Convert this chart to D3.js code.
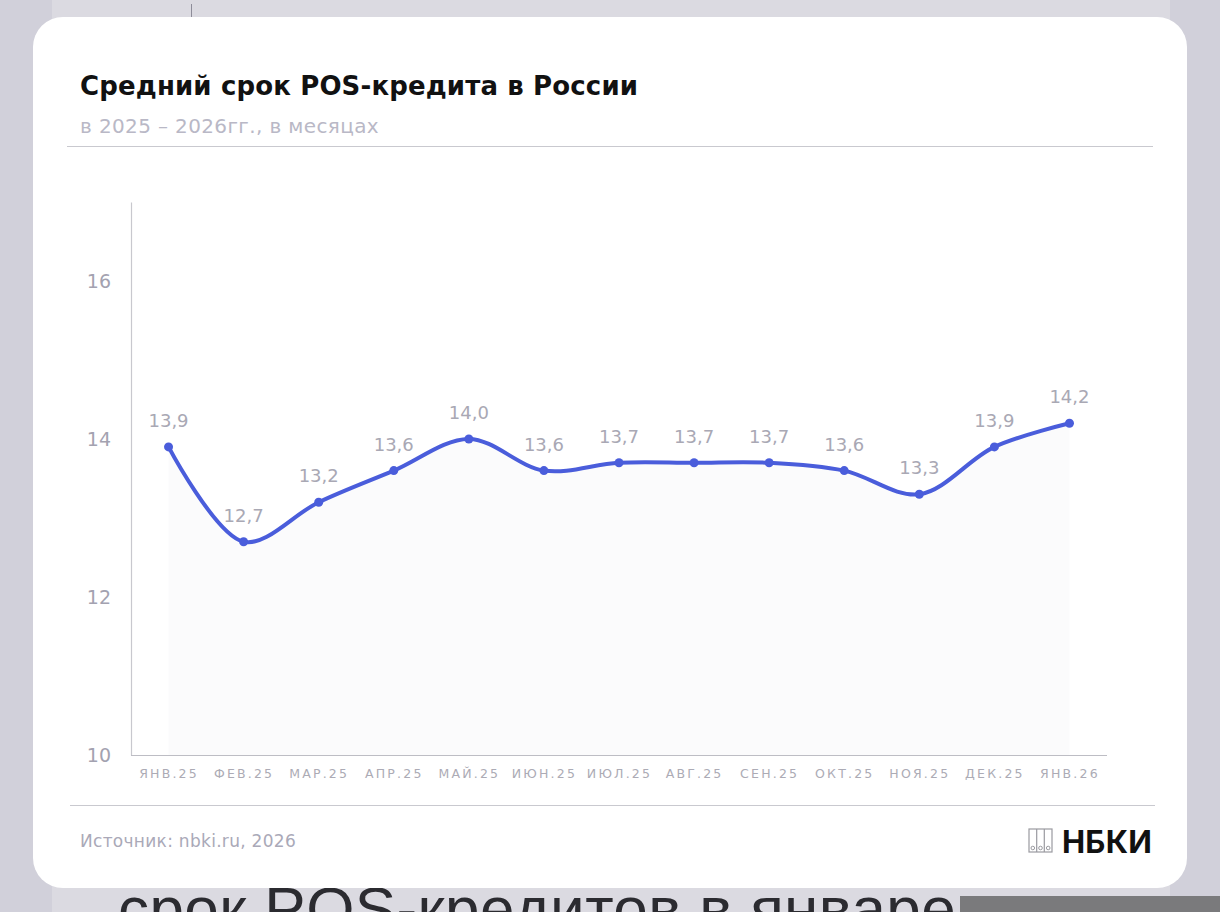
<!DOCTYPE html>
<html><head><meta charset="utf-8">
<script src="https://cdn.jsdelivr.net/npm/d3@7"></script>
<style>html,body{margin:0;padding:0;background:#d9d8e0;overflow:hidden}</style>
</head><body>
<svg id="c" width="1220" height="912"></svg>
<script>
const categories = ["ЯНВ.25","ФЕВ.25","МАР.25","АПР.25","МАЙ.25","ИЮН.25","ИЮЛ.25","АВГ.25","СЕН.25","ОКТ.25","НОЯ.25","ДЕК.25","ЯНВ.26"];
const values = [13.9,12.7,13.2,13.6,14.0,13.6,13.7,13.7,13.7,13.6,13.3,13.9,14.2];
const yTicks = [10,12,14,16];
const title = "Средний срок POS-кредита в России";
const subtitle = "в 2025 – 2026гг., в месяцах";
const source = "Источник: nbki.ru, 2026";

const svg = d3.select("#c");
const font = "'DejaVu Sans', sans-serif";

// fit helper: adjust letter-spacing so text spans target width
function fit(sel, target){
  const n = sel.text().length;
  const w = sel.node().getComputedTextLength();
  sel.attr("letter-spacing", ((target - w) / n).toFixed(2) + "px");
}

// background
svg.append("rect").attr("x",0).attr("y",0).attr("width",1220).attr("height",912).attr("fill","#d1d0da");
svg.append("rect").attr("x",52).attr("y",0).attr("width",1118).attr("height",912).attr("fill","#dbdae1");
svg.append("line").attr("x1",191.5).attr("x2",191.5).attr("y1",4).attr("y2",20).attr("stroke","#8d8c99").attr("stroke-width",1);
const bg = svg.append("text").attr("x",118).attr("y",930).attr("font-family","'Liberation Sans', Arial, sans-serif")
  .attr("font-size",62).attr("fill","#2b2b30").text("срок POS-кредитов в январе");
fit(bg, 838);
svg.append("rect").attr("x",960).attr("y",896).attr("width",260).attr("height",16).attr("fill","#7a7a7c");

// card
svg.append("rect").attr("x",33).attr("y",17).attr("width",1154).attr("height",871).attr("rx",30).attr("fill","#ffffff");

// title
const t = svg.append("text").attr("x",80).attr("y",95).attr("font-family",font).attr("font-weight",700)
  .attr("font-size",26).attr("fill","#111").text(title);
fit(t, 558);
const st = svg.append("text").attr("x",80).attr("y",133).attr("font-family",font)
  .attr("font-size",20).attr("fill","#b9b8c6").text(subtitle);
fit(st, 299);
svg.append("line").attr("x1",67).attr("x2",1153).attr("y1",146.5).attr("y2",146.5).attr("stroke","#c9c9cf").attr("stroke-width",1.2);

// scales
const x = d3.scalePoint().domain(categories).range([131,1107]).padding(0.5);
const y = d3.scaleLinear().domain([10,17]).range([755,202]);

// faint area
const data = categories.map((c,i)=>({c, v: values[i]}));
svg.append("path").datum(data)
  .attr("d", d3.area().x(d=>x(d.c)).y0(y(10)).y1(d=>y(d.v)).curve(d3.curveCatmullRom.alpha(0.5)))
  .attr("fill","#fbfbfc");

// axes
const yAxis = svg.append("g").attr("transform","translate(131,0)")
  .call(d3.axisLeft(y).tickValues(yTicks).tickSize(0).tickPadding(20).tickFormat(d3.format("d")));
yAxis.select(".domain").attr("stroke","#c8c8ce").attr("stroke-width",1.2);
yAxis.selectAll("text").attr("font-family",font).attr("font-size",19).attr("fill","#a3a2b0");

const xAxis = svg.append("g").attr("transform","translate(0,755)")
  .call(d3.axisBottom(x).tickSize(0).tickPadding(14));
xAxis.select(".domain").attr("stroke","#bdbdc4").attr("stroke-width",1.2).attr("d","M131,0.5H1107");
xAxis.selectAll("text").attr("font-family","'DejaVu Sans', sans-serif").attr("font-size",12.5)
  .attr("letter-spacing","2.2px").attr("fill","#acabb5");

// line
const line = d3.line().x(d=>x(d.c)).y(d=>y(d.v)).curve(d3.curveCatmullRom.alpha(0.5));
svg.append("path").datum(data).attr("d",line).attr("fill","none")
  .attr("stroke","#4a5ddb").attr("stroke-width",4).attr("stroke-linecap","round");
svg.selectAll("circle.pt").data(data).join("circle").attr("class","pt")
  .attr("cx",d=>x(d.c)).attr("cy",d=>y(d.v)).attr("r",4.5).attr("fill","#4a5ddb");
svg.selectAll("text.lbl").data(data).join("text").attr("class","lbl")
  .attr("x",d=>x(d.c)).attr("y",d=>y(d.v)-20).attr("text-anchor","middle")
  .attr("font-family",font).attr("font-size",18).attr("fill","#a9a8b4")
  .text(d=>d3.format(".1f")(d.v).replace(".",","));

// footer
svg.append("line").attr("x1",70).attr("x2",1155).attr("y1",805.5).attr("y2",805.5).attr("stroke","#c9c9cf").attr("stroke-width",1.2);
const src = svg.append("text").attr("x",80).attr("y",847).attr("font-family",font).attr("font-size",17)
  .attr("fill","#aaa9b8").text(source);
fit(src, 216);
// logo icon
const lg = svg.append("g").attr("transform","translate(1029,829)");
lg.append("rect").attr("x",0).attr("y",0).attr("width",23).attr("height",23).attr("fill","none").attr("stroke","#9a9aa0").attr("stroke-width",1.2);
[7.7,15.3].forEach(v=>lg.append("line").attr("x1",v).attr("x2",v).attr("y1",0).attr("y2",23).attr("stroke","#9a9aa0").attr("stroke-width",1.2));
[3.8,11.5,19.2].forEach(v=>lg.append("circle").attr("cx",v).attr("cy",19).attr("r",1.8).attr("fill","none").attr("stroke","#9a9aa0").attr("stroke-width",1));
const logo = svg.append("text").attr("x",1062).attr("y",853).attr("font-family","Inter, sans-serif").attr("font-weight",700)
  .attr("font-size",31).attr("fill","#111").text("НБКИ");
fit(logo, 90);
</script>
</body></html>
